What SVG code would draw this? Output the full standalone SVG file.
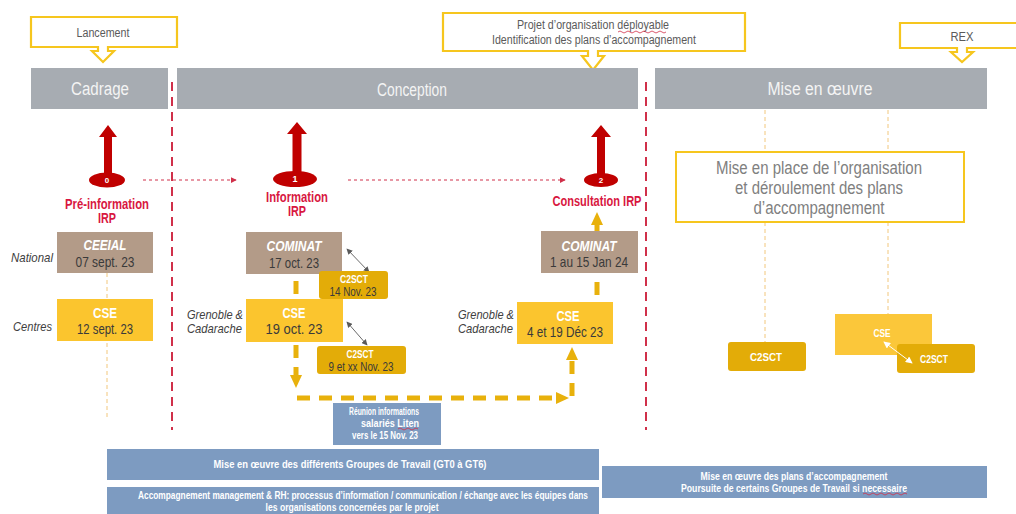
<svg xmlns="http://www.w3.org/2000/svg" width="1016" height="514" viewBox="0 0 1016 514">
<defs>
<style>
text{font-family:"Liberation Sans",Arial,sans-serif}
.call{fill:#fff;stroke:#F6C61E;stroke-width:2.2}
.calltx{font-size:12px;fill:#5a5a5a;text-anchor:middle}
.hdr{fill:#A7ACB2}
.hdrtx{font-size:18px;fill:#F4F4F4;text-anchor:middle}
.redarrow{fill:#C00000}
.num{font-size:8px;font-weight:bold;fill:#fff;text-anchor:middle}
.redtx{font-size:14px;font-weight:bold;fill:#D8173F;text-anchor:middle}
.brown{fill:#B39B88}
.yel{fill:#FBC52E}
.yel2{fill:#E3AC08}
.ttl{font-size:14.5px;font-weight:bold;font-style:italic;fill:#fff;text-anchor:middle}
.cse{font-size:14px;font-weight:bold;fill:#fff;text-anchor:middle}
.date{font-size:15px;fill:#3a3a3a;text-anchor:middle}
.c2{font-size:11px;font-weight:bold;fill:#fff;text-anchor:middle}
.c2d{font-size:12.5px;fill:#3a3a3a;text-anchor:middle}
.site{font-size:13px;font-style:italic;fill:#404040}
.mep{font-size:17.5px;fill:#808080;text-anchor:middle}
.blue{fill:#7D9BC1}
.btx{font-size:10.5px;font-weight:bold;fill:#fff;text-anchor:middle}
.reddash{stroke:#D0304A;stroke-width:2;stroke-dasharray:9 6;fill:none}
.reddot{stroke:#D0304A;stroke-width:1;stroke-dasharray:3 3;fill:none}
.thin{stroke:#F2C77C;stroke-width:1;stroke-dasharray:4 3;fill:none}
.ydash{stroke:#E8B10C;stroke-width:5;stroke-dasharray:13 9;fill:none}
.yfill{fill:#E8B10C}
.dbl{stroke:#6a6a6a;stroke-width:1;fill:none}
.sq{stroke:#D0304A;stroke-width:0.8;fill:none}
</style>
<marker id="gh" viewBox="0 0 8 8" refX="7" refY="4" markerWidth="6" markerHeight="6" orient="auto-start-reverse"><path d="M0,0 L8,4 L0,8 Z" fill="#5a5a5a"/></marker>
<marker id="wh" viewBox="0 0 8 8" refX="7" refY="4" markerWidth="7" markerHeight="7" orient="auto-start-reverse"><path d="M0,0 L8,4 L0,8 Z" fill="#fff"/></marker>
<marker id="rh" viewBox="0 0 8 8" refX="7" refY="4" markerWidth="6" markerHeight="6" orient="auto"><path d="M0,0 L8,4 L0,8 Z" fill="#D0304A"/></marker>
</defs>

<g id="guides">
<line class="thin" x1="107" y1="273" x2="107" y2="417"/>
<line class="thin" x1="765" y1="110" x2="765" y2="342"/>
<line class="thin" x1="888" y1="110" x2="888" y2="314"/>
<line class="reddash" x1="172" y1="82" x2="172" y2="430"/>
<line class="reddash" x1="646" y1="82" x2="646" y2="430"/>
</g>

<g id="callout-lancement">
<path class="call" d="M31,17 H177 V47 H108 V51 H114 L103,62 L92,51 H98 V47 H31 Z"/>
<text class="calltx" x="103" y="37" textLength="53" lengthAdjust="spacingAndGlyphs">Lancement</text>
</g>
<g id="callout-projet">
<path class="call" d="M443,13 H745 V51 H598 V56 H604 L593,70 L582,56 H588 V51 H443 Z"/>
<text class="calltx" x="593" y="29" textLength="152" lengthAdjust="spacingAndGlyphs">Projet d’organisation déployable</text>
<text class="calltx" x="594" y="44" textLength="204" lengthAdjust="spacingAndGlyphs">Identification des plans d’accompagnement</text>
</g>
<g id="callout-rex">
<path class="call" d="M900,23 H1022 V48 H967 V52 H973 L962,62 L951,52 H957 V48 H900 Z"/>
<text class="calltx" x="962" y="41" textLength="23" lengthAdjust="spacingAndGlyphs">REX</text>
</g>

<g id="hdr-cadrage"><rect class="hdr" x="31" y="68" width="137" height="41"/><text class="hdrtx" x="100" y="95" textLength="58" lengthAdjust="spacingAndGlyphs">Cadrage</text></g>
<g id="hdr-conception"><rect class="hdr" x="177" y="68" width="461" height="41"/><text class="hdrtx" x="412" y="96" textLength="70" lengthAdjust="spacingAndGlyphs">Conception</text></g>
<g id="hdr-miseenoeuvre"><rect class="hdr" x="655" y="68" width="332" height="41"/><text class="hdrtx" x="820" y="95" textLength="105" lengthAdjust="spacingAndGlyphs">Mise en œuvre</text></g>

<g id="irp0">
<path class="redarrow" d="M108,125 L117,137 L112,137 L112,176 L104,176 L104,137 L99,137 Z"/>
<ellipse class="redarrow" cx="107" cy="180" rx="18" ry="7.5"/>
<text class="num" x="107" y="183">0</text>
<text class="redtx" x="107" y="209" textLength="84" lengthAdjust="spacingAndGlyphs">Pré-information</text>
<text class="redtx" x="107" y="223" textLength="18" lengthAdjust="spacingAndGlyphs">IRP</text>
</g>
<g id="irp1">
<path class="redarrow" d="M297,122 L307,134 L301.5,134 L301.5,173 L292.5,173 L292.5,134 L287,134 Z"/>
<ellipse class="redarrow" cx="295" cy="179" rx="22" ry="8"/>
<text class="num" x="295" y="182" style="font-size:9px">1</text>
<text class="redtx" x="297" y="202" textLength="62" lengthAdjust="spacingAndGlyphs">Information</text>
<text class="redtx" x="297" y="216" textLength="18" lengthAdjust="spacingAndGlyphs">IRP</text>
</g>
<g id="irp2">
<path class="redarrow" d="M601,125 L611,137 L605,137 L605,175 L597,175 L597,137 L591,137 Z"/>
<ellipse class="redarrow" cx="601" cy="180" rx="17" ry="7"/>
<text class="num" x="601" y="183">2</text>
<text class="redtx" x="597" y="206" textLength="89" lengthAdjust="spacingAndGlyphs">Consultation IRP</text>
</g>

<g id="labels">
<text class="site" x="53" y="262" text-anchor="end" textLength="42" lengthAdjust="spacingAndGlyphs">National</text>
<text class="site" x="52" y="331" text-anchor="end" textLength="39" lengthAdjust="spacingAndGlyphs">Centres</text>
<text class="site" x="187" y="319" textLength="56" lengthAdjust="spacingAndGlyphs">Grenoble &amp;</text>
<text class="site" x="187" y="333" textLength="55" lengthAdjust="spacingAndGlyphs">Cadarache</text>
<text class="site" x="458" y="319" textLength="56" lengthAdjust="spacingAndGlyphs">Grenoble &amp;</text>
<text class="site" x="458" y="333" textLength="55" lengthAdjust="spacingAndGlyphs">Cadarache</text>
</g>

<g id="connectors">
<line class="reddot" x1="143" y1="180" x2="236" y2="180" marker-end="url(#rh)"/>
<line class="reddot" x1="348" y1="180" x2="565" y2="180" marker-end="url(#rh)"/>
<line class="ydash" x1="296" y1="281" x2="296" y2="297"/>
<line class="ydash" x1="296" y1="345" x2="296" y2="376"/>
<polygon class="yfill" points="290,375 302,375 296,388"/>
<line class="ydash" x1="297" y1="398" x2="556" y2="398"/>
<polygon class="yfill" points="556,392 556,404 569,398"/>
<line class="ydash" x1="572" y1="396" x2="572" y2="360" stroke-dasharray="16 8"/>
<polygon class="yfill" points="566,360 578,360 572,347"/>
<line class="ydash" x1="597" y1="282" x2="597" y2="299"/>
<line class="ydash" x1="597" y1="231" x2="597" y2="222" stroke-dasharray="none"/>
<polygon class="yfill" points="591,225 603,225 597,212"/>
<line class="dbl" x1="347" y1="249" x2="369" y2="272" marker-start="url(#gh)" marker-end="url(#gh)"/>
<line class="dbl" x1="347" y1="322" x2="367" y2="345" marker-start="url(#gh)" marker-end="url(#gh)"/>
</g>

<g id="ceeial"><rect class="brown" x="57" y="232" width="96" height="41"/><text class="ttl" x="105" y="250" textLength="43" lengthAdjust="spacingAndGlyphs">CEEIAL</text><text class="date" x="105" y="267" textLength="59" lengthAdjust="spacingAndGlyphs">07 sept. 23</text></g>
<g id="cse-centres"><rect class="yel" x="57" y="299" width="96" height="42"/><text class="cse" x="105" y="318" textLength="24" lengthAdjust="spacingAndGlyphs">CSE</text><text class="date" x="105" y="334" textLength="56" lengthAdjust="spacingAndGlyphs">12 sept. 23</text></g>

<g id="cominat1"><rect class="brown" x="246" y="232" width="96" height="42"/><text class="ttl" x="294" y="251" textLength="55" lengthAdjust="spacingAndGlyphs">COMINAT</text><text class="date" x="294" y="268" textLength="50" lengthAdjust="spacingAndGlyphs">17 oct. 23</text></g>
<g id="c2sct1"><rect class="yel2" x="319" y="271" width="69" height="28" rx="3"/><text class="c2" x="354" y="283" textLength="28" lengthAdjust="spacingAndGlyphs">C2SCT</text><text class="c2d" x="353" y="296" textLength="47" lengthAdjust="spacingAndGlyphs">14 Nov. 23</text></g>
<g id="cse1"><rect class="yel" x="246" y="299" width="97" height="43"/><text class="cse" x="294" y="318" textLength="23" lengthAdjust="spacingAndGlyphs">CSE</text><text class="date" x="294" y="334" textLength="57" lengthAdjust="spacingAndGlyphs">19 oct. 23</text></g>
<g id="c2sct2"><rect class="yel2" x="317" y="346" width="89" height="28" rx="3"/><text class="c2" x="360" y="358" textLength="27" lengthAdjust="spacingAndGlyphs">C2SCT</text><text class="c2d" x="361" y="371" textLength="65" lengthAdjust="spacingAndGlyphs">9 et xx Nov. 23</text></g>
<g id="cominat2"><rect class="brown" x="541" y="231" width="97" height="42"/><text class="ttl" x="589" y="251" textLength="55" lengthAdjust="spacingAndGlyphs">COMINAT</text><text class="date" x="589" y="267" textLength="78" lengthAdjust="spacingAndGlyphs">1 au 15 Jan 24</text></g>
<g id="cse2"><rect class="yel" x="517" y="302" width="96" height="42"/><text class="cse" x="568" y="321" textLength="23" lengthAdjust="spacingAndGlyphs">CSE</text><text class="date" x="565" y="337" textLength="76" lengthAdjust="spacingAndGlyphs">4 et 19 Déc 23</text></g>

<g id="miseenplace">
<rect x="676" y="152" width="288" height="70" fill="#fff" stroke="#F6C61E" stroke-width="2"/>
<text class="mep" x="819" y="174" textLength="206" lengthAdjust="spacingAndGlyphs">Mise en place de l’organisation</text>
<text class="mep" x="819" y="194" textLength="168" lengthAdjust="spacingAndGlyphs">et déroulement des plans</text>
<text class="mep" x="819" y="214" textLength="131" lengthAdjust="spacingAndGlyphs">d’accompagnement</text>
</g>
<g id="c2sct3"><rect class="yel2" x="728" y="342" width="78" height="29" rx="3"/><text class="c2" x="766" y="361" textLength="32" lengthAdjust="spacingAndGlyphs">C2SCT</text></g>
<g id="cse3"><rect fill="#FBC73A" x="835" y="314" width="97" height="41"/><text class="c2" x="882" y="337" textLength="17" lengthAdjust="spacingAndGlyphs">CSE</text></g>
<g id="c2sct4"><rect class="yel2" x="897" y="344" width="78" height="29" rx="3"/><text class="c2" x="934" y="363" textLength="28" lengthAdjust="spacingAndGlyphs">C2SCT</text></g>
<line x1="884" y1="342" x2="912" y2="363" stroke="#fff" stroke-width="1" marker-start="url(#wh)" marker-end="url(#wh)"/>

<g id="reunion"><rect class="blue" x="333" y="403" width="108" height="42"/>
<text class="btx" x="384" y="415" textLength="70" lengthAdjust="spacingAndGlyphs">Réunion informations</text>
<text class="btx" x="390" y="427" textLength="58" lengthAdjust="spacingAndGlyphs">salariés Liten</text>
<text class="btx" x="385" y="439" textLength="66" lengthAdjust="spacingAndGlyphs">vers le 15 Nov. 23</text></g>
<g id="gt"><rect class="blue" x="107" y="449" width="492" height="31"/>
<text class="btx" x="350" y="468" textLength="273" lengthAdjust="spacingAndGlyphs">Mise en œuvre des différents Groupes de Travail (GT0 à GT6)</text></g>
<g id="accomp"><rect class="blue" x="107" y="487" width="492" height="30"/>
<text class="btx" x="363" y="499" textLength="450" lengthAdjust="spacingAndGlyphs">Accompagnement management &amp; RH: processus d’information / communication / échange avec les équipes dans</text>
<text class="btx" x="352" y="511" textLength="173" lengthAdjust="spacingAndGlyphs">les organisations concernées par le projet</text></g>
<g id="plans"><rect class="blue" x="602" y="466" width="385" height="32"/>
<text class="btx" x="794" y="480" textLength="187" lengthAdjust="spacingAndGlyphs">Mise en œuvre des plans d’accompagnement</text>
<text class="btx" x="794" y="492" textLength="226" lengthAdjust="spacingAndGlyphs">Poursuite de certains Groupes de Travail si necessaire</text></g>

<g id="squiggles">
<path class="sq" d="M618,32 q2,-2 4,0 t4,0 t4,0 t4,0 t4,0 t4,0 t4,0 t4,0 t4,0 t4,0 t4,0 t4,0"/>
<path class="sq" d="M398,429 q2,-2 4,0 t4,0 t4,0 t4,0 t4,0"/>
<path class="sq" d="M863,494 q2,-2 4,0 t4,0 t4,0 t4,0 t4,0 t4,0 t4,0 t4,0 t4,0 t4,0 t4,0"/>
</g>
</svg>
